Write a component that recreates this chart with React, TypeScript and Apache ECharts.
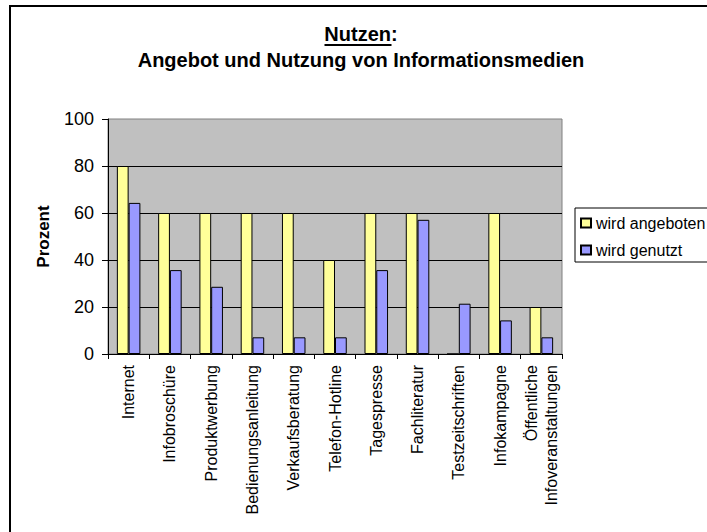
import React, { useEffect, useRef } from "react";
import * as echarts from "echarts";

const categories = [
  "Internet",
  "Infobroschüre",
  "Produktwerbung",
  "Bedienungsanleitung",
  "Verkaufsberatung",
  "Telefon-Hotline",
  "Tagespresse",
  "Fachliteratur",
  "Testzeitschriften",
  "Infokampagne",
  "Öffentliche\nInfoveranstaltungen",
];
const angeboten = [80, 60, 60, 60, 60, 40, 60, 60, 0, 60, 20];
const genutzt = [64.3, 35.7, 28.6, 7.1, 7.1, 7.1, 35.7, 57.1, 21.4, 14.3, 7.1];
const seriesNames = ["wird angeboten", "wird genutzt"];
const titleLine1 = "Nutzen:";
const titleLine2 = "Angebot und Nutzung von Informationsmedien";
const yAxisName = "Prozent";

const FONT = "'Liberation Sans', Arial, sans-serif";

export default function App() {
  const ref = useRef<HTMLDivElement>(null);
  useEffect(() => {
    if (!ref.current) return;
    const chart = echarts.init(ref.current, undefined, { renderer: "svg" });
    chart.setOption({
      animation: false,
      backgroundColor: "#ffffff",
      textStyle: { fontFamily: FONT, color: "#000" },
      graphic: [
        {
          type: "rect",
          z: -10,
          shape: { x: 10, y: 6, width: 800, height: 600 },
          style: { fill: "none", stroke: "#000", lineWidth: 2 },
        },
        {
          type: "text",
          x: 361,
          y: 34,
          style: {
            text: titleLine1,
            font: `bold 20px ${FONT}`,
            fill: "#000",
            align: "center",
            verticalAlign: "middle",
          },
        },
        {
          type: "line",
          shape: { x1: 324.5, y1: 45, x2: 391.5, y2: 45 },
          style: { stroke: "#000", lineWidth: 2 },
        },
        {
          type: "text",
          x: 361,
          y: 60,
          style: {
            text: titleLine2,
            font: `bold 20px ${FONT}`,
            fill: "#000",
            align: "center",
            verticalAlign: "middle",
          },
        },
      ],
      legend: {
        orient: "vertical",
        left: 575,
        top: 208,
        padding: [7, 30, 4, 5],
        itemGap: 11,
        itemWidth: 10,
        itemHeight: 9,
        icon: "rect",
        borderColor: "#000",
        borderWidth: 1,
        backgroundColor: "#fff",
        textStyle: { fontSize: 16, color: "#000", fontFamily: FONT, padding: [0, 0, 0, 0] },
        data: seriesNames,
      },
      grid: {
        left: 108,
        top: 119,
        right: 145,
        bottom: 178,
        show: true,
        backgroundColor: "#C0C0C0",
        borderColor: "#808080",
        borderWidth: 1,
      },
      xAxis: {
        type: "category",
        data: categories,
        boundaryGap: true,
        axisLine: { lineStyle: { color: "#000", width: 1 } },
        axisTick: { show: true, length: 5, lineStyle: { color: "#000" } },
        axisLabel: {
          rotate: 90,
          interval: 0,
          margin: 11,
          fontSize: 16,
          color: "#000",
          fontFamily: FONT,
          lineHeight: 20,
        },
      },
      yAxis: {
        type: "value",
        min: 0,
        max: 100,
        interval: 20,
        name: yAxisName,
        nameLocation: "middle",
        nameRotate: 90,
        nameGap: 56,
        nameTextStyle: { fontSize: 17, fontWeight: "bold", color: "#000", fontFamily: FONT },
        axisLine: { show: true, lineStyle: { color: "#000", width: 1 } },
        axisTick: { show: true, length: 6, lineStyle: { color: "#000" } },
        axisLabel: { fontSize: 18, color: "#000", margin: 14, fontFamily: FONT },
        splitLine: {
          show: true,
          showMinLine: false,
          showMaxLine: false,
          lineStyle: { color: "#000", width: 1 },
        },
      },
      series: [
        {
          name: seriesNames[0],
          type: "bar",
          data: angeboten,
          barGap: "0%",
          barCategoryGap: "43%",
          itemStyle: { color: "#FFFF99", borderColor: "#000", borderWidth: 1 },
        },
        {
          name: seriesNames[1],
          type: "bar",
          data: genutzt,
          barGap: "0%",
          barCategoryGap: "43%",
          itemStyle: { color: "#9999FF", borderColor: "#000", borderWidth: 1 },
        },
      ],
    });
    return () => chart.dispose();
  }, []);
  return (
    <div
      ref={ref}
      style={{ position: "absolute", left: 0, top: 0, width: 707, height: 532, background: "#fff" }}
    />
  );
}
